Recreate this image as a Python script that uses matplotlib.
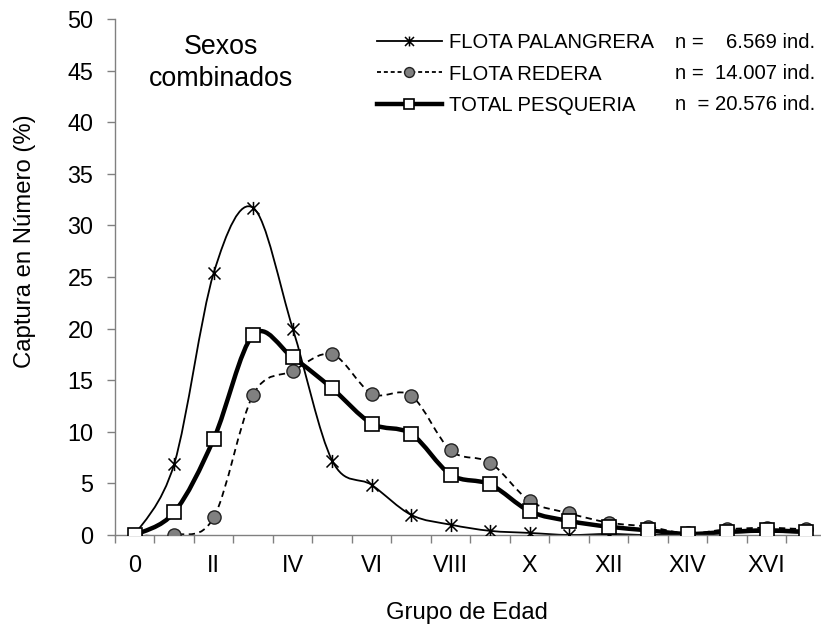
import numpy as np
import matplotlib
matplotlib.use("Agg")
import matplotlib.pyplot as plt
from matplotlib.path import Path
from matplotlib.patches import PathPatch
from matplotlib.lines import Line2D

plt.rcParams['font.family'] = ['Liberation Sans', 'DejaVu Sans']

# ---- data ----
ages = list(range(18))
age_labels = ['0', 'II', 'IV', 'VI', 'VIII', 'X', 'XII', 'XIV', 'XVI']
palangrera = [0.0, 6.9, 25.4, 31.7, 20.0, 7.2, 4.85, 1.95, 1.0, 0.4, 0.2, 0.0, 0.1, 0.0, 0.1, 0.2, 0.3, 0.2]
redera     = [0.0, 0.0, 1.7, 13.6, 15.9, 17.5, 13.7, 13.5, 8.2, 7.0, 3.3, 2.1, 1.2, 0.8, 0.15, 0.55, 0.7, 0.55]
total      = [0.0, 2.2, 9.3, 19.4, 17.2, 14.2, 10.8, 9.8, 5.85, 4.9, 2.3, 1.36, 0.8, 0.45, 0.1, 0.3, 0.45, 0.3]
names = ['FLOTA PALANGRERA', 'FLOTA REDERA', 'TOTAL PESQUERIA']
n_labels = ['n =', 'n =', 'n  =']
n_values = ['6.569 ind.', '14.007 ind.', '20.576 ind.']

W, H = 821, 625
fig = plt.figure(figsize=(W / 100, H / 100), dpi=100)
ax = fig.add_axes([115 / W, 1 - 535 / H, (820 - 115) / W, (535 - 19) / H])

# Excel-like star marker (X with vertical bar)
star = Path([(-1, -1), (1, 1), (-1, 1), (1, -1), (0, -1.1), (0, 1.1)],
            [Path.MOVETO, Path.LINETO, Path.MOVETO, Path.LINETO, Path.MOVETO, Path.LINETO])


def smooth_path(x, y):
    pts = np.column_stack([x, y]).astype(float)
    n = len(pts)
    verts = [pts[0]]
    codes = [Path.MOVETO]
    for i in range(n - 1):
        p0 = pts[i - 1] if i > 0 else pts[i]
        p1 = pts[i]
        p2 = pts[i + 1]
        p3 = pts[i + 2] if i + 2 < n else pts[i + 1]
        c1 = p1 + (p2 - p0) / 6.0
        c2 = p2 - (p3 - p1) / 6.0
        verts += [c1, c2, p2]
        codes += [Path.CURVE4] * 3
    return Path(verts, codes)


styles = [
    dict(data=palangrera, lw=1.3, ls='-', marker=star, ms=9.5, mfc='none', mec='black', mew=1.1),
    dict(data=redera, lw=1.3, ls=(0, (3.5, 2.5)), marker='o', ms=9.5, mfc='#808080', mec='#222222', mew=1.0),
    dict(data=total, lw=3.2, ls='-', marker='s', ms=9.8, mfc='white', mec='black', mew=1.2),
]

handles = []
for st in styles:
    patch = PathPatch(smooth_path(ages, st['data']), facecolor='none', edgecolor='black',
                      lw=st['lw'], ls=st['ls'], zorder=2, capstyle='butt', joinstyle='round')
    ax.add_patch(patch)
    ax.plot(ages, st['data'], ls='none', marker=st['marker'], ms=st['ms'],
            mfc=st['mfc'], mec=st['mec'], mew=st['mew'], zorder=3)
    handles.append(Line2D([], [], color='black', lw=st['lw'],
                          ls=st['ls'] if st['ls'] == '-' else (0, (2.2, 1.6)),
                          marker=st['marker'], ms=st['ms'] * 0.75,
                          mfc=st['mfc'], mec=st['mec'], mew=st['mew']))

ax.set_xlim(-0.5, 17.35)
ax.set_ylim(0, 50)
ax.set_yticks(np.arange(0, 51, 5))
ax.set_xticks(np.arange(-0.5, 17.5, 1))
ax.set_xticklabels([])
ax.set_xticks(np.arange(0, 17, 2), minor=True)
ax.set_xticklabels(age_labels, minor=True)
ax.tick_params(axis='x', which='minor', length=0, pad=14, labelsize=16.8)
ax.tick_params(axis='x', which='major', length=5.5, width=1, color='#808080', direction='out')
ax.tick_params(axis='y', length=5.5, width=1, color='#808080', direction='out', labelsize=16.8, pad=10)

for s in ['top', 'right']:
    ax.spines[s].set_visible(False)
for s in ['left', 'bottom']:
    ax.spines[s].set_color('#808080')
    ax.spines[s].set_linewidth(1.0)

fig.text(25 / W, 1 - 241 / H, 'Captura en Número (%)', rotation=90, ha='center', va='center', fontsize=17.2)
fig.text(467 / W, 1 - 619 / H, 'Grupo de Edad', ha='center', va='baseline', fontsize=17.2)
fig.text(221 / W, 1 - 54 / H, 'Sexos', ha='center', va='baseline', fontsize=19.3)
fig.text(221 / W, 1 - 86 / H, 'combinados', ha='center', va='baseline', fontsize=19.3)

leg = fig.legend(handles, names, loc='upper left', bbox_to_anchor=(377 / W, 1 - 33 / H),
                 frameon=False, fontsize=14.6, handlelength=3.2, handletextpad=0.35,
                 labelspacing=0.62, borderpad=0, borderaxespad=0)

rows_y = [48, 79, 110]
for yy, nl, nv in zip(rows_y, n_labels, n_values):
    fig.text(675 / W, 1 - yy / H, nl, ha='left', va='baseline', fontsize=14.6)
    fig.text(815 / W, 1 - yy / H, nv, ha='right', va='baseline', fontsize=14.6)

fig.savefig('out.png', dpi=100)
